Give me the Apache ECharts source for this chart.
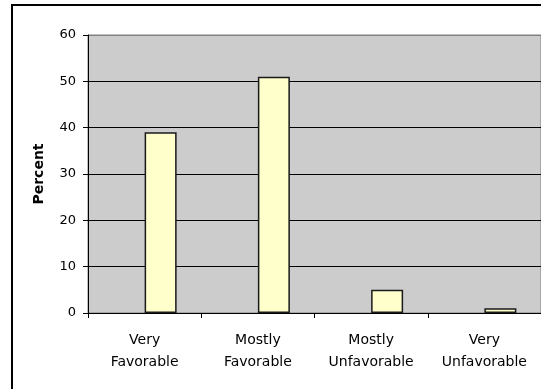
<!DOCTYPE html>
<html>
<head>
<meta charset="utf-8">
<script src="https://cdn.jsdelivr.net/npm/echarts@6/dist/echarts.min.js"></script>
<style>
  html, body { margin: 0; padding: 0; background: #fff; }
  #chart { width: 541px; height: 389px; }
</style>
</head>
<body>
<div id="chart"></div>
<script>
// Survey responses, percent of respondents
const categories = ['Very\nFavorable', 'Mostly\nFavorable', 'Mostly\nUnfavorable', 'Very\nUnfavorable'];
const percentValues = [39, 51, 5, 1];
// empty companion series keeps the clustered-bar slot on the left of each category
const emptySlot = [null, null, null, null];
const yTicks = { min: 0, max: 60, step: 10 };
const yTitle = 'Percent';

const FONT = 'DejaVu Sans';
const chart = echarts.init(document.getElementById('chart'), null, { renderer: 'canvas' });

chart.setOption({
  animation: false,
  backgroundColor: '#ffffff',
  grid: {
    left: 88, top: 35, right: -1, bottom: 76,
    show: true,
    backgroundColor: '#cccccc',
    borderColor: '#808080',
    borderWidth: 1
  },
  graphic: [{
    type: 'rect',
    shape: { x: 12, y: 5, width: 700, height: 600 },
    style: { fill: null, stroke: '#000000', lineWidth: 2 },
    silent: true,
    z: 100
  }],
  xAxis: {
    type: 'category',
    data: categories,
    boundaryGap: true,
    axisLine: { show: true, lineStyle: { color: '#000', width: 1 } },
    axisTick: { show: true, length: 5, inside: false, lineStyle: { color: '#000' } },
    axisLabel: {
      margin: 16,
      color: '#000',
      fontFamily: FONT,
      fontSize: 14,
      lineHeight: 22,
      interval: 0
    },
    splitLine: { show: false }
  },
  yAxis: {
    type: 'value',
    min: yTicks.min,
    max: yTicks.max,
    interval: yTicks.step,
    name: yTitle,
    nameLocation: 'middle',
    nameGap: 42,
    nameRotate: 90,
    nameTextStyle: { color: '#000', fontFamily: FONT, fontSize: 14, fontWeight: 'bold' },
    axisLine: { show: true, lineStyle: { color: '#000', width: 1 } },
    axisTick: { show: true, length: 5, inside: false, lineStyle: { color: '#000' } },
    axisLabel: { margin: 12, color: '#000', fontFamily: FONT, fontSize: 13 },
    splitLine: {
      show: true,
      lineStyle: { color: ['#000', '#000', '#000', '#000', '#000', '#000', '#808080'], width: 1 }
    }
  },
  series: [
    {
      type: 'bar',
      data: emptySlot,
      barWidth: 32,
      barGap: '0%',
      itemStyle: { color: 'transparent' },
      silent: true
    },
    {
      type: 'bar',
      data: percentValues,
      barWidth: 32,
      barGap: '0%',
      itemStyle: { color: '#ffffcc', borderColor: '#1a1a1a', borderWidth: 1.5 }
    }
  ]
});
</script>
</body>
</html>
